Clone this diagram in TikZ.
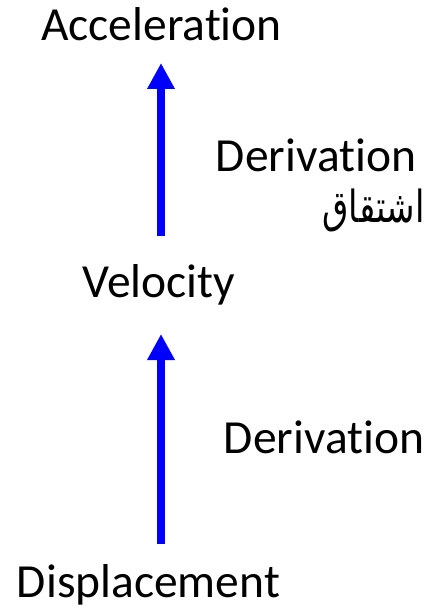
\documentclass[tikz,border=0pt]{standalone}
\usepackage{fontspec}
\usepackage{graphicx}
\setmainfont[RawFeature=-liga]{Carlito}
\newfontfamily\arabicfont[Script=Arabic]{DejaVu Sans}
\TeXXeTstate=1
\usetikzlibrary{arrows.meta}
\tikzset{
  lbl/.style={inner sep=0pt, anchor=base, font=\fontsize{47.5}{57}\selectfont, text=black},
  arb/.style={inner sep=0pt, anchor=base, font=\arabicfont\fontsize{34}{42}\selectfont, text=black},
  bluearrow/.style={draw=blue, line width=8pt, -{Triangle[width=26pt,length=26pt]}}
}
\begin{document}
\begin{tikzpicture}[x=1pt,y=-1pt]
\fill[white] (0,0) rectangle (442,609);
\useasboundingbox (0,0) rectangle (442,609);
\node[lbl] (acc) at (161.5,41) {Acceleration};
\node[lbl] (vel) at (159,297) {Velocity};
\node[lbl] (dis) at (148.5,597) {Displacement};
\node[lbl] (der1) at (316,172) {Derivation};
\node[arb] (ar) at (373.5,223) {\scalebox{1}[1.3]{\beginR اشتقاق\endR}};
\node[lbl] (der2) at (324,453) {Derivation};
\coordinate (a1s) at (161,236);
\coordinate (a1e) at (161,63);
\coordinate (a2s) at (161,544);
\coordinate (a2e) at (161,334);
\draw[bluearrow] (a1s) -- (a1e);
\draw[bluearrow] (a2s) -- (a2e);
\end{tikzpicture}
\end{document}
